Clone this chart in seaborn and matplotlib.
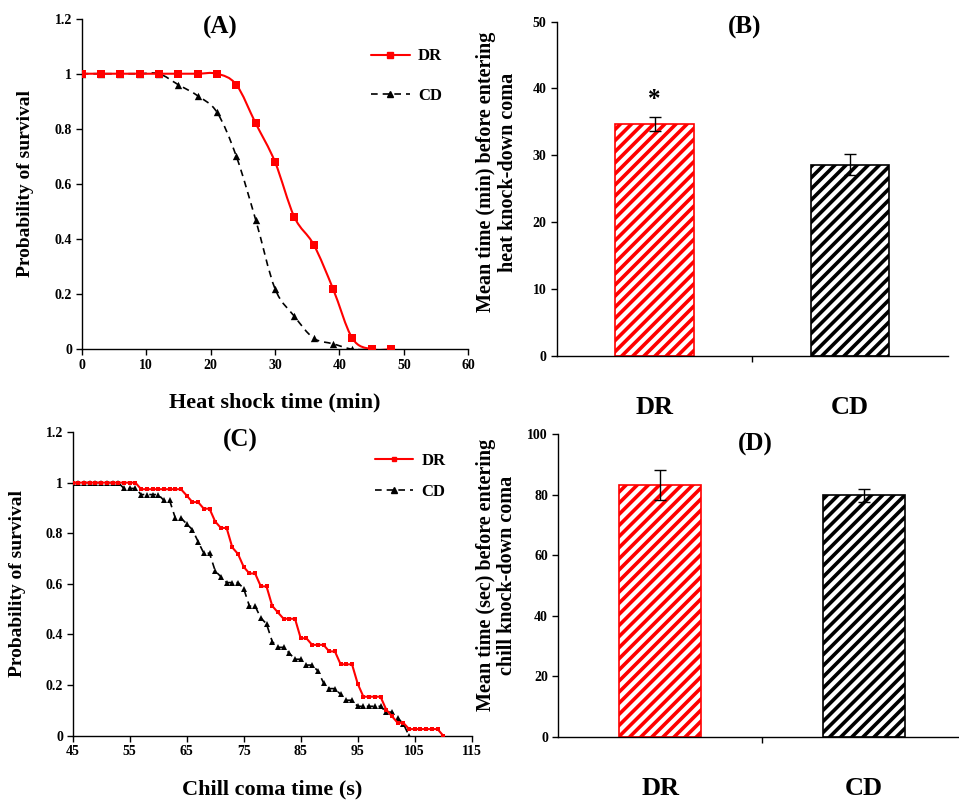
import matplotlib
matplotlib.use("Agg")
import matplotlib.pyplot as plt
import seaborn as sns
import pandas as pd
from matplotlib.path import Path
from matplotlib.patches import PathPatch
from matplotlib.lines import Line2D
from matplotlib.font_manager import FontProperties

# ---------------- data ----------------
heat_time_dr = [0, 3, 6, 9, 12, 15, 18, 21, 24, 27, 30, 33, 36, 39, 42, 45, 48]
heat_dr = [1, 1, 1, 1, 1, 1, 1, 1, 0.96, 0.82, 0.68, 0.48, 0.38, 0.22, 0.04, 0, 0]
heat_time_cd = [0, 3, 6, 9, 12, 15, 18, 21, 24, 27, 30, 33, 36, 39, 42, 45]
heat_cd = [1, 1, 1, 1, 1, 0.96, 0.92, 0.86, 0.70, 0.47, 0.22, 0.12, 0.04, 0.02, 0, 0]

chill_time_dr = [45, 46, 47, 48, 49, 50, 51, 52, 53, 54, 55, 56, 57, 58, 59, 60,
                 61, 62, 63, 64, 65, 66, 67, 68, 69, 70, 71, 72, 73, 74, 75, 76,
                 77, 78, 79, 80, 81, 82, 83, 84, 85, 86, 87, 88, 89, 90, 91, 92,
                 93, 94, 95, 96, 97, 98, 99, 100, 101, 102, 103, 104, 105, 106,
                 107, 108, 109, 110]
chill_dr = [1, 1, 1, 1, 1, 1, 1, 1, 1, 1, 1, 1,
            0.974, 0.974, 0.974, 0.974, 0.974, 0.974, 0.974, 0.974,
            0.949, 0.923, 0.923, 0.897, 0.897, 0.846, 0.821, 0.821,
            0.744, 0.718, 0.667, 0.641, 0.641, 0.590, 0.590, 0.513,
            0.487, 0.462, 0.462, 0.462, 0.385, 0.385, 0.359, 0.359, 0.359,
            0.333, 0.333, 0.282, 0.282, 0.282, 0.205,
            0.154, 0.154, 0.154, 0.154, 0.103, 0.077, 0.051, 0.051,
            0.026, 0.026, 0.026, 0.026, 0.026, 0.026, 0]
chill_time_cd = [45, 46, 47, 48, 49, 50, 51, 52, 53, 54, 55, 56, 57, 58, 59, 60,
                 61, 62, 63, 64, 65, 66, 67, 68, 69, 70, 71, 72, 73, 74, 75, 76,
                 77, 78, 79, 80, 81, 82, 83, 84, 85, 86, 87, 88, 89, 90, 91, 92,
                 93, 94, 95, 96, 97, 98, 99, 100, 101, 102, 103, 104]
chill_cd = [1, 1, 1, 1, 1, 1, 1, 1, 1,
            0.977, 0.977, 0.977, 0.953, 0.953, 0.953, 0.953,
            0.930, 0.930, 0.860, 0.860, 0.837, 0.814, 0.767, 0.721, 0.721,
            0.651, 0.628, 0.605, 0.605, 0.605, 0.581, 0.512, 0.512,
            0.465, 0.442, 0.372, 0.349, 0.349, 0.326, 0.302, 0.302,
            0.279, 0.279, 0.256, 0.209, 0.186, 0.186, 0.163, 0.140, 0.140,
            0.116, 0.116, 0.116, 0.116, 0.116, 0.093, 0.093, 0.070, 0.047, 0]

groups = ["DR", "CD"]
heat_mean = [34.7, 28.6]
heat_err = [1.1, 1.6]
chill_mean = [83.2, 79.7]
chill_err = [4.9, 2.3]

surv_ticks = [0, 0.2, 0.4, 0.6, 0.8, 1.0, 1.2]
surv_labels = ["0", "0.2", "0.4", "0.6", "0.8", "1", "1.2"]
heat_xticks = [0, 10, 20, 30, 40, 50, 60]
chill_xticks = [45, 55, 65, 75, 85, 95, 105, 115]

RED = "#ff0000"
BLK = "#000000"
FAM = ["Liberation Serif", "DejaVu Serif"]
B = "bold"

# ---------------- style ----------------
sns.set_style("ticks")
plt.rcParams["font.family"] = FAM
plt.rcParams["font.weight"] = "bold"
plt.rcParams["axes.labelweight"] = "bold"
plt.rcParams["hatch.linewidth"] = 2.6
plt.rcParams["axes.linewidth"] = 1.0
for key in ["text.color", "axes.labelcolor", "xtick.color", "ytick.color",
            "axes.edgecolor", "xtick.labelcolor", "ytick.labelcolor"]:
    plt.rcParams[key] = "black"

fig = plt.figure(figsize=(9.59, 8.02), dpi=100)
axA = fig.add_axes([0.0852, 0.5645, 0.4031, 0.4123])
axB = fig.add_axes([0.5805, 0.5565, 0.4080, 0.4165])
axC = fig.add_axes([0.0758, 0.0827, 0.4161, 0.3786])
axD = fig.add_axes([0.5822, 0.0814, 0.4251, 0.3774])

TICK_FS = 10


def smooth_line(ax, xs, ys, **kw):
    """Excel-like smoothed line through the data points (Catmull-Rom Bezier)."""
    n = len(xs)
    verts = [(xs[0], ys[0])]
    codes = [Path.MOVETO]
    for i in range(n - 1):
        x0, y0 = (xs[i - 1], ys[i - 1]) if i > 0 else (xs[i], ys[i])
        x1, y1 = xs[i], ys[i]
        x2, y2 = xs[i + 1], ys[i + 1]
        x3, y3 = (xs[i + 2], ys[i + 2]) if i + 2 < n else (x2, y2)
        c1 = (x1 + (x2 - x0) / 6.0, y1 + (y2 - y0) / 6.0)
        c2 = (x2 - (x3 - x1) / 6.0, y2 - (y3 - y1) / 6.0)
        verts += [c1, c2, (x2, y2)]
        codes += [Path.CURVE4, Path.CURVE4, Path.CURVE4]
    ax.add_patch(PathPatch(Path(verts, codes), fill=False, **kw))


def bold_ticks(ax):
    for lab in ax.get_xticklabels() + ax.get_yticklabels():
        lab.set_fontweight(B)
        lab.set_family(FAM)
        lab.set_color("black")


def style_survival(ax):
    sns.despine(ax=ax)
    ax.set_ylim(0, 1.2)
    ax.set_yticks(surv_ticks)
    ax.set_yticklabels(surv_labels)
    ax.tick_params(axis="both", direction="out", length=4, width=1,
                   labelsize=TICK_FS, pad=3, colors="black")
    bold_ticks(ax)


legend_prop = FontProperties(family=FAM, weight=B, size=12)

# ---------------- Panel A ----------------
dfA_dr = pd.DataFrame({"t": heat_time_dr, "p": heat_dr})
dfA_cd = pd.DataFrame({"t": heat_time_cd, "p": heat_cd})
smooth_line(axA, heat_time_cd, heat_cd, edgecolor=BLK, linewidth=1.2,
            linestyle=(0, (4, 3)), zorder=2)
smooth_line(axA, heat_time_dr, heat_dr, edgecolor=RED, linewidth=1.5, zorder=3)
sns.scatterplot(data=dfA_cd, x="t", y="p", marker="^", color=BLK, s=28,
                edgecolor=BLK, linewidth=0, ax=axA, zorder=4)
sns.scatterplot(data=dfA_dr, x="t", y="p", marker="s", color=RED, s=26,
                edgecolor=RED, linewidth=0, ax=axA, zorder=5)
axA.set_xlim(0, 60)
axA.set_xticks(heat_xticks)
style_survival(axA)
axA.set_xlabel("Heat shock time (min)", fontsize=16, fontweight=B, labelpad=15)
axA.set_ylabel("Probability of survival", fontsize=14, fontweight=B, labelpad=15)
axA.text(0.358, 0.972, "(A)", transform=axA.transAxes, ha="center",
         va="center", fontsize=18, fontweight=B)
hA = [Line2D([], [], color=RED, lw=1.5, marker="s", markersize=5),
      Line2D([], [], color=BLK, lw=1.2, ls=(0, (4, 3)), marker="^", markersize=5)]
axA.legend(hA, groups, loc="upper left", bbox_to_anchor=(0.71, 0.955),
           frameon=False, prop=legend_prop, handlelength=2.3, labelspacing=1.4,
           handletextpad=0.5)

# ---------------- Panel C ----------------
dfC_dr = pd.DataFrame({"t": chill_time_dr, "p": chill_dr})
dfC_cd = pd.DataFrame({"t": chill_time_cd, "p": chill_cd})
sns.lineplot(data=dfC_cd, x="t", y="p", color=BLK, lw=1.2, marker="^",
             markersize=5, markeredgewidth=0, ax=axC, zorder=2)
axC.lines[-1].set_linestyle((0, (4, 3)))
sns.lineplot(data=dfC_dr, x="t", y="p", color=RED, lw=1.5, marker="s",
             markersize=3.2, markeredgewidth=0, ax=axC, zorder=3)
axC.set_xlim(45, 115)
axC.set_xticks(chill_xticks)
style_survival(axC)
axC.set_xlabel("Chill coma time (s)", fontsize=16, fontweight=B, labelpad=15)
axC.set_ylabel("Probability of survival", fontsize=14, fontweight=B, labelpad=14)
axC.text(0.419, 0.972, "(C)", transform=axC.transAxes, ha="center",
         va="center", fontsize=18, fontweight=B)
hC = [Line2D([], [], color=RED, lw=1.5, marker="s", markersize=3.2),
      Line2D([], [], color=BLK, lw=1.2, ls=(0, (4, 3)), marker="^", markersize=5)]
axC.legend(hC, groups, loc="upper left", bbox_to_anchor=(0.72, 0.98),
           frameon=False, prop=legend_prop, handlelength=2.3, labelspacing=0.9,
           handletextpad=0.5)


# ---------------- Bar panels ----------------
def bar_panel(ax, means, errs, ymax, step, title, tx, ty, ylabel, lx, ly):
    df = pd.DataFrame({"g": groups, "v": means})
    sns.barplot(data=df, x="g", y="v", hue="g", palette=["white", "white"],
                width=0.4, errorbar=None, legend=False, ax=ax)
    for patch, col in zip(ax.patches, [RED, BLK]):
        patch.set_edgecolor(col)
        patch.set_hatch("///")
        patch.set_linewidth(1.2)
    ax.errorbar([0, 1], means, yerr=errs, fmt="none", ecolor="black",
                elinewidth=1.0, capsize=4, capthick=1.0, zorder=5)
    sns.despine(ax=ax)
    ax.set_xlim(-0.5, 1.5)
    ax.set_ylim(0, ymax)
    ax.set_yticks(list(range(0, ymax + 1, step)))
    ax.set_xticks([0, 1])
    ax.set_xticklabels(groups)
    ax.set_xticks([0.5], minor=True)
    ax.tick_params(axis="x", which="major", length=0, pad=29, labelsize=19)
    ax.tick_params(axis="x", which="minor", length=4, width=1, direction="out")
    ax.tick_params(axis="y", length=4, width=1, direction="out",
                   labelsize=TICK_FS)
    bold_ticks(ax)
    ax.set_xlabel("")
    ax.set_ylabel(ylabel, fontsize=14.5, fontweight=B, linespacing=1.1)
    ax.yaxis.set_label_coords(lx, ly)
    ax.text(tx, ty, title, transform=ax.transAxes, ha="center", va="center",
            fontsize=18, fontweight=B)


bar_panel(axB, heat_mean, heat_err, 50, 10, "(B)", 0.481, 0.984,
          "Mean time (min) before entering\nheat knock-down coma", -0.099, 0.55)
axB.text(0, heat_mean[0] + heat_err[0] + 2.6, "*", ha="center", va="center",
         fontsize=18, fontweight=B)
bar_panel(axD, chill_mean, chill_err, 100, 20, "(D)", 0.482, 0.964,
          "Mean time (sec) before entering\nchill knock-down coma", -0.101, 0.534)

fig.savefig("out.png", dpi=100)
